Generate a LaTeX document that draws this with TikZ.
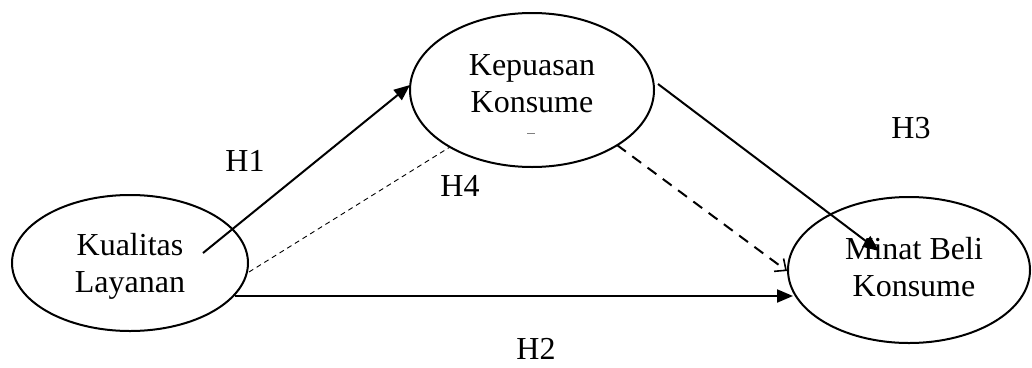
\documentclass[tikz,border=0pt]{standalone}
\usepackage{fontspec}
\setmainfont{Liberation Serif}
\usetikzlibrary{shapes.geometric,arrows.meta}
\begin{document}
\begin{tikzpicture}[x=1pt,y=-1pt,
  var/.style={draw,ellipse,line width=2pt,inner sep=0pt},
  txt/.style={align=center,inner sep=0pt,font=\fontsize{32}{37}\selectfont},
  lbl/.style={inner sep=0pt,font=\fontsize{32}{37}\selectfont},
  solidarrow/.style={line width=2pt,-{Triangle[length=16pt,width=13pt]}},
  dasharrow/.style={line width=2pt,dash pattern=on 11pt off 8pt,-{Straight Barb[length=9pt,width=16pt,line width=1.6pt]}},
  thindash/.style={line width=0.9pt,dash pattern=on 5pt off 4pt}]
\useasboundingbox (0,0) rectangle (1032,367);
% ellipses
\node[var,minimum width=244pt,minimum height=154pt] (kep) at (532,90) {};
\node[var,minimum width=236pt,minimum height=136pt] (kual) at (130,263) {};
\node[var,minimum width=242pt,minimum height=146pt] (minat) at (909,270) {};
% texts
\node[txt] (kept) at (532,84) {Kepuasan\\Konsume};
\node[txt] (kualt) at (130,266) {Kualitas\\Layanan};
\node[txt] (minatt) at (914,267) {Minat Beli\\Konsume};
% endpoint coordinates
\coordinate (h1s) at (203,253);
\coordinate (h1e) at (410,85);
\coordinate (h4s) at (249,272);
\coordinate (h4e) at (450,147);
\coordinate (h2s) at (235,296);
\coordinate (h2e) at (793,296);
\coordinate (h3s) at (658,84);
\coordinate (h3e) at (879,251);
\coordinate (dss) at (617,145);
\coordinate (dse) at (787,271);
% connectors
\draw[solidarrow] (h1s) -- (h1e);
\draw[thindash] (h4s) -- (h4e);
\draw[solidarrow] (h2s) -- (h2e);
\draw[solidarrow] (h3s) -- (h3e);
\draw[dasharrow] (dss) -- (dse);
% tiny mark
\draw[gray,line width=0.8pt] (527,133) -- (535,133);
% labels
\node[lbl] (H1) at (245,161) {H1};
\node[lbl] (H3) at (911,128) {H3};
\node[lbl] (H4) at (460,186) {H4};
\node[lbl] (H2) at (536,349) {H2};
\end{tikzpicture}
\end{document}
